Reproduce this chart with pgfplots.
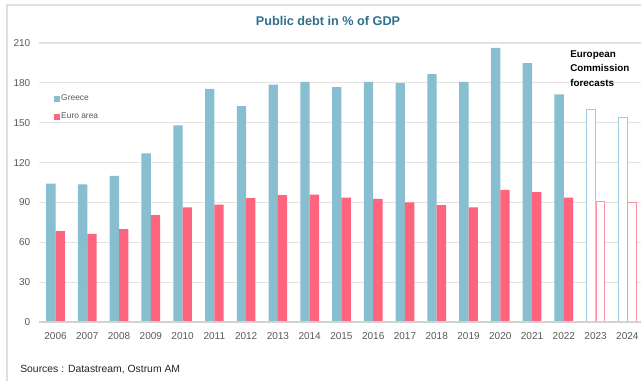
\documentclass[border=0pt]{standalone}
\usepackage{fontspec}
\setmainfont{Liberation Sans}
\usepackage{pgfplots}
\pgfplotsset{compat=1.18}
\definecolor{greece}{RGB}{136,191,208}
\definecolor{euro}{RGB}{255,100,127}
\definecolor{titlec}{RGB}{47,110,140}
\definecolor{txt}{RGB}{89,89,89}
\pgfplotsset{sq legend/.style={legend image code/.code={\fill[##1] (0pt,-2.2pt) rectangle (4.2pt,2.2pt);}}}
\begin{document}
\begin{tikzpicture}
\useasboundingbox (0,0) rectangle (480.75pt,-285.75pt);
\fill[white] (0,0) rectangle (480.75pt,-285.75pt);
\draw[gray!25, line width=0.8pt] (5.25pt,-285.75pt) -- (5.25pt,-3.75pt) -- (480.75pt,-3.75pt);
\begin{axis}[
  at={(29.25pt,-241.5pt)}, anchor=south west,
  scale only axis, width=451.5pt, height=209.25pt,
  xmin=-0.52, xmax=18.43, ymin=0, ymax=210,
  xtick={0,...,18},
  xticklabels={2006,2007,2008,2009,2010,2011,2012,2013,2014,2015,2016,2017,2018,2019,2020,2021,2022,2023,2024},
  ytick={0,30,...,210},
  grid=none,
  axis line style={draw=none},
  xtick style={draw=none}, ytick style={draw=none},
  /pgf/number format/assume math mode=true,
  ticklabel style={font=\fontsize{7.5}{9}\selectfont, text=txt},
  xticklabel style={yshift=-4.5pt},
  yticklabel style={xshift=-3pt},
  legend style={at={(0.025,0.82)}, anchor=north west, draw=none, fill=none,
    font=\fontsize{6.3}{7.5}\selectfont, text=txt, row sep=5.5pt, inner sep=0pt,
    nodes={inner sep=1pt}},
  legend cell align=left,
  clip=false,
]
\pgfplotsinvokeforeach{30,60,90,120,150,180,210}{
  \draw[gray!22, line width=0.8pt] (axis cs:-0.52,#1) -- (axis cs:18.43,#1);
}
\addplot[ybar, bar width=7pt, bar shift=-3.5pt, fill=greece, draw=none, sq legend] coordinates {
(0,104.2)(1,103.5)(2,110)(3,127)(4,148)(5,175.5)(6,162.5)(7,178.6)(8,180.8)(9,176.8)(10,180.8)(11,179.8)(12,186.6)(13,180.8)(14,206.3)(15,194.8)(16,171.3)};
\addlegendentry{Greece}
\addplot[ybar, bar width=7pt, bar shift=3.5pt, fill=euro, draw=none, sq legend] coordinates {
(0,68.4)(1,66.3)(2,69.9)(3,80.4)(4,86.2)(5,88.4)(6,93.2)(7,95.5)(8,95.8)(9,93.7)(10,92.7)(11,90.0)(12,87.9)(13,86.2)(14,99.4)(15,97.7)(16,93.7)};
\addlegendentry{Euro area}
\addplot[ybar, bar width=6.4pt, bar shift=-3.5pt, fill=white, draw=greece!80, line width=0.6pt, forget plot] coordinates {(17,160.3)(18,154.3)};
\addplot[ybar, bar width=6.4pt, bar shift=3.5pt, fill=white, draw=euro!70, line width=0.6pt, forget plot] coordinates {(17,91.0)(18,90.0)};
\draw[gray!35, line width=0.9pt] (axis cs:-0.52,0) -- (axis cs:18.43,0);
\end{axis}
\begin{scope}[x=0.75pt,y=-0.75pt]
\node[font=\fontsize{9.5}{11}\selectfont\bfseries, text=titlec] at (328,21) {Public debt in \% of GDP};
\node[anchor=west, font=\fontsize{7.8}{9}\selectfont, text=black!85, inner sep=0pt] at (20,370) {Sources : Datastream, Ostrum AM};
\node[anchor=north west, align=left, font=\fontsize{7.4}{10.9}\selectfont\bfseries, inner sep=0pt] at (570,50) {European\\Commission\\forecasts};
\end{scope}
\end{tikzpicture}
\end{document}
